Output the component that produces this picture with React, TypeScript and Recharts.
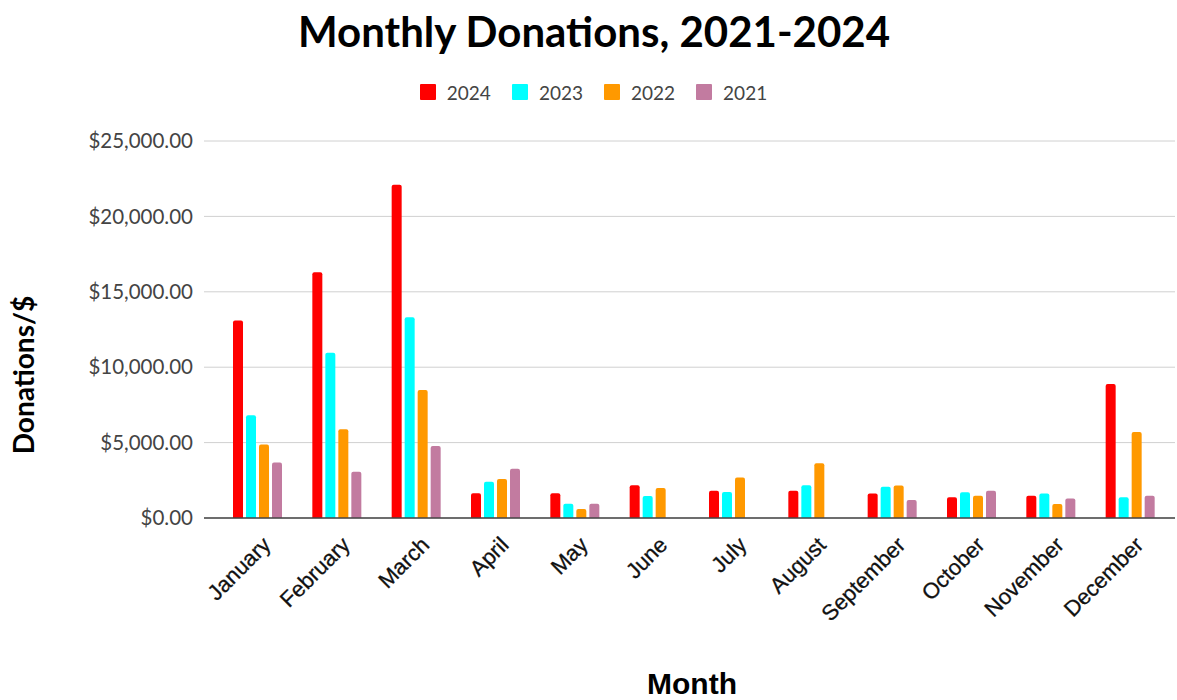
import { BarChart, Bar, XAxis, YAxis, CartesianGrid, Legend } from 'recharts'

document.body.style.margin = '0'

const months = [
  'January', 'February', 'March', 'April', 'May', 'June',
  'July', 'August', 'September', 'October', 'November', 'December',
]
const years = ['2024', '2023', '2022', '2021']
const donations2024 = [13100, 16300, 22100, 1640, 1640, 2170, 1810, 1810, 1620, 1380, 1470, 8890]
const donations2023 = [6820, 10960, 13310, 2410, 950, 1460, 1730, 2170, 2070, 1710, 1620, 1380]
const donations2022 = [4870, 5890, 8480, 2590, 600, 1990, 2680, 3630, 2160, 1470, 930, 5710]
const donations2021 = [3680, 3060, 4780, 3270, 950, null, null, null, 1200, 1800, 1290, 1470]
const yearColors = ['#ff0000', '#00ffff', '#ff9900', '#c27ba0']
const yTicks = [0, 5000, 10000, 15000, 20000, 25000]

const seriesValues = [donations2024, donations2023, donations2022, donations2021]
const data = months.map((month, i) => {
  const row: Record<string, string | number | null> = { month }
  years.forEach((y, s) => { row[y] = seriesValues[s][i] })
  return row
})

const money = (v: number) =>
  '$' + v.toLocaleString('en-US', { minimumFractionDigits: 2, maximumFractionDigits: 2 })

// eslint-disable-next-line @typescript-eslint/no-explicit-any
function MonthTick({ x, y, payload }: any) {
  return (
    <g transform={`translate(${x + 9},${y + 15})`}>
      <text
        transform="rotate(-45)"
        textAnchor="end"
        dominantBaseline="central"
        fontFamily="'Liberation Sans', Arial, sans-serif"
        fontSize={22}
        fill="#111"
        stroke="#111"
        strokeWidth={0.3}
      >
        {payload.value}
      </text>
    </g>
  )
}

function YearLegend() {
  return (
    <div style={{ height: 61, display: 'flex', justifyContent: 'center', paddingLeft: 12, gap: 21 }}>
      {years.map((y, i) => (
        <div key={y} style={{ display: 'flex', alignItems: 'center', height: 24 }}>
          <span style={{ width: 16, height: 16, background: yearColors[i], borderRadius: 1, marginRight: 11 }} />
          <span style={{ fontFamily: 'Lato, sans-serif', fontSize: 19, color: '#444' }}>{y}</span>
        </div>
      ))}
    </div>
  )
}

export default function App() {
  return (
    <div style={{ position: 'relative', width: 1177, height: 700, background: '#fff' }}>
      <BarChart
        width={1177}
        height={700}
        data={data}
        margin={{ top: 80, right: 2, bottom: 122, left: 0 }}
        barSize={10}
        barGap={3}
      >
        <CartesianGrid vertical={false} stroke="#d0d0d0" />
        <Legend verticalAlign="top" align="center" content={<YearLegend />} />
        <XAxis
          dataKey="month"
          height={60}
          tick={<MonthTick />}
          tickLine={false}
          axisLine={{ stroke: '#444', strokeWidth: 1.5 }}
          interval={0}
          padding={{ left: 14, right: 5 }}
          label={{
            content: () => (
              <text x={692} y={694} textAnchor="middle" fontFamily="'Liberation Sans', Arial, sans-serif"
                fontWeight="bold" fontSize={30} fill="#000">Month</text>
            ),
          }}
        />
        <YAxis
          width={204}
          domain={[0, 25000]}
          ticks={yTicks}
          tickFormatter={money}
          tickLine={false}
          axisLine={false}
          tickMargin={5}
          tick={{ fontFamily: 'Lato, sans-serif', fontSize: 20.5, fill: '#444' }}
          label={{
            content: () => (
              <text x={34} y={375} transform="rotate(-90 34 375)" textAnchor="middle"
                fontFamily="Lato, sans-serif" fontWeight="bold" fontSize={28} fill="#000">Donations/$</text>
            ),
          }}
        />
        {years.map((y, i) => (
          <Bar key={y} dataKey={y} fill={yearColors[i]} radius={[2, 2, 0, 0]} isAnimationActive={false} />
        ))}
      </BarChart>
      <svg width={1177} height={60} style={{ position: 'absolute', left: 0, top: 0, pointerEvents: 'none' }}>
        <text x={594} y={47} textAnchor="middle" fontFamily="Lato, sans-serif" fontWeight="bold" fontSize={42} fill="#000">
          Monthly Donations, 2021-2024
        </text>
      </svg>
    </div>
  )
}
